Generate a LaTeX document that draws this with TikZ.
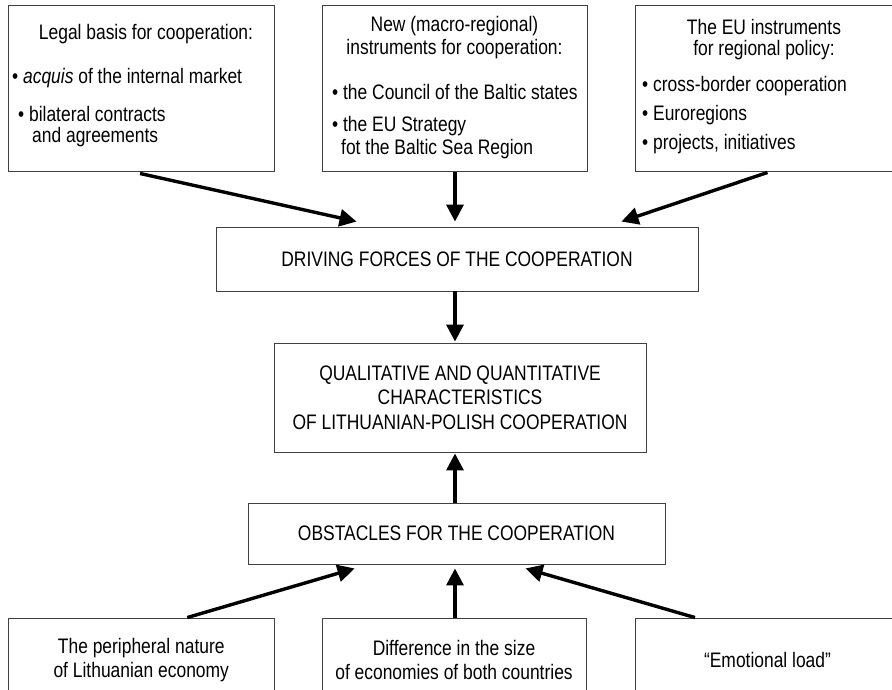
\documentclass[tikz,border=0pt]{standalone}
\usepackage{fontspec}
\setmainfont{Liberation Sans}
\newfontfamily\narrowfont{Liberation Sans}[FakeStretch=0.83]
\usetikzlibrary{arrows.meta,calc}
\begin{document}
\begin{tikzpicture}[x=1pt,y=-1pt,
  box/.style={draw=black!75, line width=0.9pt, rectangle, inner sep=0pt, align=center, font=\narrowfont\fontsize{21}{24.5}\selectfont},
  topbox/.style={draw=black!75, line width=0.9pt, rectangle, inner sep=0pt},
  txt/.style={inner sep=0pt, font=\narrowfont\fontsize{21}{24}\selectfont},
  arr/.style={line width=3.4pt, -{Triangle[length=17pt,width=17pt]}}]
\useasboundingbox (0,0) rectangle (892,689);
\fill[white] (0,0) rectangle (892,689);

% top boxes
\node[topbox, minimum width=266pt, minimum height=166pt] (tl) at (141,88) {};
\node[topbox, minimum width=265pt, minimum height=166pt] (tm) at (454.5,88) {};
\node[topbox, minimum width=265pt, minimum height=166pt] (tr) at (767.5,88) {};

% top-left text
\node[txt, anchor=base] (tlh) at (146,39) {Legal basis for cooperation:};
\node[txt, anchor=base west] (tl1) at (12,83) {• \textit{acquis} of the internal market};
\node[txt, anchor=base west] (tl2) at (18,121) {• bilateral contracts};
\node[txt, anchor=base west] (tl3) at (32,142) {and agreements};

% top-middle text
\node[txt, anchor=base] (tmh1) at (454.5,31) {New (macro-regional)};
\node[txt, anchor=base] (tmh2) at (454.5,54) {instruments for cooperation:};
\node[txt, anchor=base west] (tm1) at (332,99) {• the Council of the Baltic states};
\node[txt, anchor=base west] (tm2) at (332,131) {• the EU Strategy};
\node[txt, anchor=base west] (tm3) at (341,154) {fot the Baltic Sea Region};

% top-right text
\node[txt, anchor=base] (trh1) at (764,34) {The EU instruments};
\node[txt, anchor=base] (trh2) at (764,55) {for regional policy:};
\node[txt, anchor=base west] (tr1) at (642,91) {• cross-border cooperation};
\node[txt, anchor=base west] (tr2) at (642,120) {• Euroregions};
\node[txt, anchor=base west] (tr3) at (642,149) {• projects, initiatives};

% middle boxes
\node[box, minimum width=482pt, minimum height=64pt] (drv) at (457,259) {DRIVING FORCES OF THE COOPERATION};
\node[box, minimum width=372pt, minimum height=109pt] (qual) at (460,397.5)
  {QUALITATIVE AND QUANTITATIVE\\CHARACTERISTICS\\OF LITHUANIAN-POLISH COOPERATION};
\node[box, minimum width=417pt, minimum height=61pt] (obs) at (456.5,533.5) {OBSTACLES FOR THE COOPERATION};

% bottom boxes
\node[box, minimum width=265.5pt, minimum height=84pt] (bl) at (141.25,660) {The peripheral nature\\of Lithuanian economy};
\node[box, minimum width=264pt, minimum height=84pt] (bm) at (454,660) {Difference in the size\\of economies of both countries};
\node[box, minimum width=265pt, minimum height=84pt] (br) at (767.5,660) {“Emotional load”};

% arrows top -> driving
\draw[arr] ($(tl.south)+(-1,2)$) -- ($(drv.north west)+(141,-5)$);
\draw[arr] ($(tm.south)+(0.5,1)$) -- ($(drv.north)+(-2,-5)$);
\draw[arr] ($(tr.south)+(0,1)$) -- ($(drv.north east)+(-77,-5)$);

% driving -> qualitative
\draw[arr] ($(drv.south)+(-2,0)$) -- ($(qual.north)+(-5,-1)$);
% obstacles -> qualitative
\draw[arr] ($(obs.north)+(-1.5,0)$) -- ($(qual.south)+(-5,1)$);

% bottom -> obstacles
\draw[arr] ($(bl.north)+(46,0)$) -- ($(obs.south west)+(107,4)$);
\draw[arr] ($(bm.north)+(1,0)$) -- ($(obs.south)+(-1.5,4)$);
\draw[arr] ($(br.north)+(-72.5,0)$) -- ($(obs.south west)+(278,4)$);
\end{tikzpicture}
\end{document}
